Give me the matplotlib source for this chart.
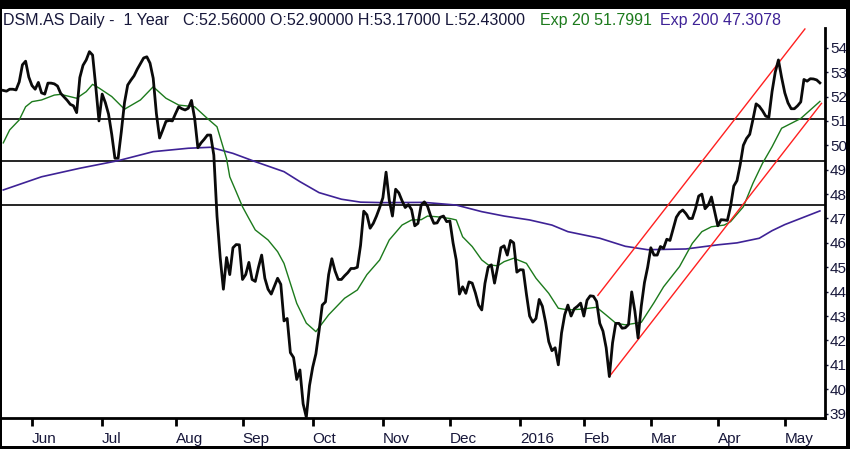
"""
DSM.AS diario - 1 año, con EMA 20 / EMA 200, soportes horizontales y canal alcista.
Uso: python plot.py  -> out.png
"""
import matplotlib
matplotlib.use("Agg")
import matplotlib.pyplot as plt
from matplotlib.patches import Rectangle
import numpy as np
import pandas as pd

# ---------------------------------------------------------------------------
# Datos
# ---------------------------------------------------------------------------
START_DATE = "2015-05-19"
HOLIDAYS = ["2015-12-25", "2016-01-01", "2016-03-25", "2016-03-28"]

close = [
    52.25, 52.22, 52.30, 52.30, 52.27, 52.60, 53.30, 53.45, 52.80, 52.45,
    52.30, 52.58, 52.15, 52.10, 52.55, 52.55, 52.52, 52.43, 52.13, 51.99,
    51.85, 51.68, 51.62, 51.34, 52.78, 53.28, 53.50, 53.84, 53.70, 52.40,
    51.00, 52.10, 51.75, 51.28, 50.45, 49.47, 49.47, 50.55, 51.75, 52.47,
    52.67, 52.85, 53.12, 53.35, 53.58, 53.63, 53.37, 52.75, 51.30, 50.30,
    50.63, 50.98, 51.02, 51.00, 51.30, 51.58, 51.50, 51.45, 51.52, 51.84,
    51.10, 49.90, 50.10, 50.25, 50.42, 50.42, 49.60, 47.10, 45.40, 44.10,
    45.40, 44.70, 45.80, 45.93, 45.92, 44.50, 44.70, 45.20, 44.50, 44.42,
    45.00, 45.50, 44.55, 44.10, 43.90, 44.22, 44.55, 44.30, 42.80, 42.90,
    41.50, 41.30, 40.40, 40.79, 39.40, 38.85, 40.15, 40.90, 41.45, 42.40,
    43.45, 43.58, 44.70, 45.35, 44.85, 44.50, 44.50, 44.65, 44.78, 44.95,
    44.95, 45.00, 45.90, 47.30, 47.15, 46.60, 46.80, 47.10, 47.45, 47.85,
    48.90, 47.75, 47.10, 48.20, 48.05, 47.73, 47.45, 47.57, 47.36, 46.70,
    46.80, 47.55, 47.68, 47.50, 47.10, 46.80, 46.82, 47.05, 47.10, 46.87,
    46.90, 46.00, 45.30, 43.90, 44.20, 43.93, 44.40, 44.35, 43.95, 43.45,
    43.25, 44.34, 45.00, 45.10, 44.35, 45.03, 45.80, 45.88, 45.50, 46.10,
    46.00, 44.80, 44.90, 44.89, 43.90, 43.00, 42.75, 42.90, 43.68, 43.40,
    42.75, 41.95, 41.58, 41.70, 41.00, 42.30, 43.05, 43.45, 43.00, 43.30,
    43.40, 43.53, 43.00, 43.65, 43.83, 43.81, 43.60, 42.70, 42.38, 41.70,
    40.52, 41.90, 42.70, 42.70, 42.50, 42.52, 42.65, 43.99, 43.20, 42.10,
    43.40, 44.37, 45.00, 45.80, 45.50, 45.50, 45.85, 45.78, 46.15, 46.10,
    46.58, 47.05, 47.25, 47.35, 47.20, 47.00, 47.00, 47.40, 47.92, 48.00,
    47.40, 47.55, 47.88, 47.30, 46.70, 46.95, 46.94, 46.92, 47.50, 48.33,
    48.55, 49.20, 50.00, 50.28, 50.45, 51.05, 51.70, 51.60, 51.42, 51.20,
    51.15, 52.20, 53.00, 53.50, 52.78, 52.15, 51.74, 51.50, 51.50, 51.62,
    51.78, 52.70, 52.63, 52.73, 52.72, 52.68, 52.56,
]

# EMA 20 (verde): índice de sesión -> valor
ema20_idx = [
    0, 2, 5, 7, 9, 12, 16, 18, 23, 26, 28, 30, 34, 38, 43, 47, 51, 55, 60,
    64, 67, 70, 71, 73, 75, 77, 79, 83, 86, 88, 90, 92, 95, 98, 102, 107,
    111, 114, 118, 121, 125, 128, 131, 133, 136, 140, 142, 144, 147, 150,
    152, 155, 157, 160, 164, 167, 171, 174, 177, 181, 186, 189, 192, 195,
    200, 204, 207, 212, 216, 219, 222, 226, 228, 232, 235, 238, 241, 244,
    247, 250, 253, 256,
]
ema20_val = [
    50.10, 50.63, 51.04, 51.58, 51.79, 51.86, 52.06, 52.09, 51.93, 52.20,
    52.50, 52.35, 52.00, 51.48, 51.86, 52.40, 51.93, 51.65, 51.58, 51.10,
    50.76, 49.45, 48.71, 48.10, 47.48, 47.00, 46.53, 46.12, 45.64, 45.16,
    44.34, 43.52, 42.71, 42.36, 43.05, 43.73, 44.07, 44.70, 45.30, 46.12,
    46.73, 46.94, 46.95, 47.10, 47.07, 47.00, 46.94, 46.25, 45.85, 45.30,
    45.10, 45.06, 45.23, 45.37, 45.16, 44.55, 43.93, 43.32, 43.25, 43.28,
    43.36, 43.04, 42.71, 42.64, 42.74, 43.55, 44.20, 45.03, 45.98, 46.46,
    46.66, 46.73, 46.87, 47.48, 48.44, 49.26, 49.94, 50.70, 50.90, 51.10,
    51.45, 51.80,
]

# EMA 200 (morado)
ema200_idx = [
    0, 12, 24, 36, 47, 58, 65, 72, 79, 88, 93, 99, 106, 112, 119, 132, 142,
    150, 157, 165, 172, 177, 187, 195, 202, 214, 224, 230, 237, 241, 245, 256,
]
ema200_val = [
    48.17, 48.71, 49.06, 49.37, 49.74, 49.88, 49.92, 49.67, 49.33, 48.92,
    48.51, 48.06, 47.79, 47.67, 47.65, 47.66, 47.55, 47.28, 47.10, 46.94,
    46.73, 46.46, 46.19, 45.86, 45.72, 45.75, 45.92, 46.00, 46.19, 46.50,
    46.75, 47.31,
]

# Niveles horizontales y canal alcista
levels = [51.08, 49.37, 47.55]
chan_upper_idx = [186.4, 251.3]
chan_upper_val = [43.85, 54.77]
chan_lower_idx = [190.0, 256.5]
chan_lower_val = [40.52, 51.72]

TITLE_NAME = "DSM.AS Daily -  1 Year"
TITLE_OHLC = "C:52.56000 O:52.90000 H:53.17000 L:52.43000"
TITLE_EMA20 = "Exp 20 51.7991"
TITLE_EMA200 = "Exp 200 47.3078"

# ---------------------------------------------------------------------------
# Estilo
# ---------------------------------------------------------------------------
C_PRICE = "#0a0a0a"
C_EMA20 = "#1c7a1c"
C_EMA200 = "#3e2296"
C_RED = "#ff2020"
C_TEXT = "#17173a"
FONT_TITLE = 11.5
FONT_TICK = 11

plt.rcParams["font.family"] = ["Liberation Sans", "DejaVu Sans"]

# ---------------------------------------------------------------------------
# Fechas y ticks mensuales
# ---------------------------------------------------------------------------
n = len(close)
dates = pd.bdate_range(START_DATE, periods=n, freq="C", holidays=HOLIDAYS)
x = np.arange(n)

month_key = dates.year * 12 + dates.month
tick_pos, tick_lab = [], []
for i in range(1, n):
    if month_key[i] != month_key[i - 1]:
        tick_pos.append(i)
        d = dates[i]
        tick_lab.append(str(d.year) if d.month == 1 else d.strftime("%b"))

# ---------------------------------------------------------------------------
# Figura
# ---------------------------------------------------------------------------
W, H = 850, 449
fig = plt.figure(figsize=(W / 100, H / 100), dpi=100)
ax = fig.add_axes([2 / W, 1 - 418 / H, (825 - 2) / W, (418 - 28) / H])

for lvl in levels:
    ax.axhline(lvl, color="black", lw=1.2, zorder=1)

ax.plot(ema200_idx, ema200_val, color=C_EMA200, lw=1.2, zorder=2)
ax.plot(ema20_idx, ema20_val, color=C_EMA20, lw=1.0, zorder=3)
ax.plot(chan_upper_idx, chan_upper_val, color=C_RED, lw=1.0, zorder=3)
ax.plot(chan_lower_idx, chan_lower_val, color=C_RED, lw=1.0, zorder=3)
ax.plot(x, close, color=C_PRICE, lw=2.0, zorder=4)

ax.set_xlim(-0.4, 257.6)
ax.set_ylim(38.82, 54.81)

# ejes
ax.spines["top"].set_visible(False)
ax.spines["left"].set_visible(False)
ax.spines["bottom"].set_linewidth(2)
ax.spines["right"].set_linewidth(2)

ax.yaxis.tick_right()
ax.set_yticks(range(39, 55))
ax.tick_params(axis="y", length=2, width=1, pad=1.5, labelsize=FONT_TICK,
               labelcolor=C_TEXT, color=C_TEXT)

ax.set_xticks(tick_pos)
ax.set_xticklabels(tick_lab)
ax.tick_params(axis="x", length=6, width=2, pad=4, labelsize=FONT_TICK,
               labelcolor=C_TEXT, color="black")
for lab in ax.get_xticklabels():
    lab.set_horizontalalignment("left")

# título en segmentos de color
title_y = 1 - 20.5 / H
for px, txt, col in [(3, TITLE_NAME, C_TEXT), (183, TITLE_OHLC, C_TEXT),
                     (540, TITLE_EMA20, C_EMA20), (660, TITLE_EMA200, C_EMA200)]:
    fig.text(px / W, title_y, txt, fontsize=FONT_TITLE, color=col,
             va="center", ha="left")

# marco negro exterior
for rect in [(0, 1 - 9 / H, 1, 9 / H), (0, 0, 2 / W, 1),
             (1 - 4 / W, 0, 4 / W, 1), (0, 0, 1, 3 / H)]:
    fig.patches.append(Rectangle(rect[:2], rect[2], rect[3], transform=fig.transFigure,
                                 facecolor="black", edgecolor="none", zorder=10))

fig.savefig("out.png", dpi=100)
